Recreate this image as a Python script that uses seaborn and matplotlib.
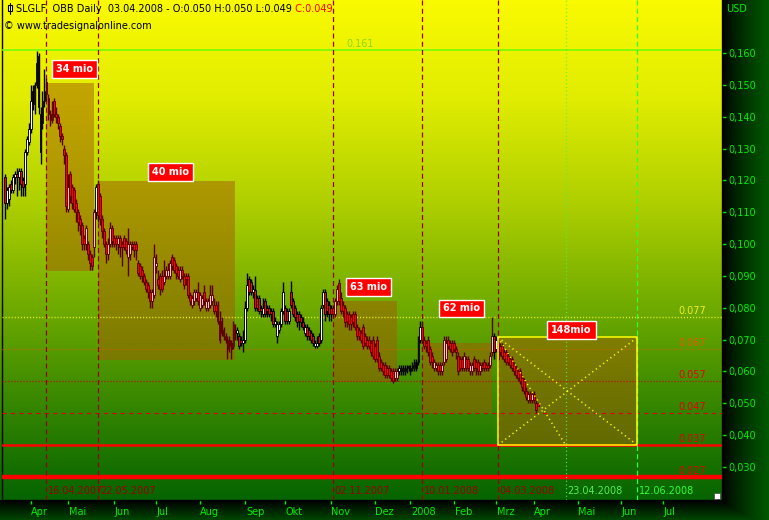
import numpy as np
import pandas as pd
import matplotlib
matplotlib.use("Agg")
import matplotlib.pyplot as plt
import matplotlib.transforms as mtransforms
from matplotlib.patches import Rectangle
from matplotlib.ticker import FuncFormatter
import seaborn as sns

sns.set_theme(style="white")
plt.rcParams["font.family"] = ["DejaVu Sans"]

# -------------------------------
# Data (SLGLF daily, 14.03.2007 - 03.04.2008)
# -------------------------------
holidays = ["2007-04-06", "2007-04-09", "2007-12-24", "2007-12-25", "2007-12-26",
            "2008-01-01", "2008-03-21", "2008-03-24"]

opens = [
    .121, .113, .114, .119, .117, .121, .122, .121, .123, .120,
    .119, .129, .132, .136, .148, .144, .150, .159, .141, .138,
    .145, .151, .146, .141, .139, .145, .141, .140, .137, .134,
    .130, .128, .111, .122, .118, .117, .113, .110, .108, .106,
    .102, .100, .100, .097, .096, .099, .110, .119, .115, .108,
    .104, .100, .097, .100, .105, .102, .102, .100, .102, .100,
    .102, .101, .096, .097, .100, .100, .100, .094, .093, .092,
    .090, .088, .087, .085, .082, .084, .093, .089, .090, .090,
    .088, .090, .090, .090, .096, .095, .093, .092, .089, .092,
    .090, .090, .090, .084, .081, .082, .083, .085, .080, .081,
    .085, .080, .080, .081, .082, .081, .081, .081, .076, .076,
    .073, .070, .070, .070, .069, .068, .073, .072, .071, .070,
    .069, .070, .080, .089, .088, .085, .0855, .083, .083, .080,
    .078, .082, .080, .080, .079, .079, .075, .071, .073, .075,
    .079, .080, .079, .076, .085, .082, .080, .078, .078, .077,
    .0756, .072, .074, .073, .072, .071, .068, .068, .071, .070,
    .081, .085, .082, .081, .080, .080, .078, .082, .0877, .083,
    .081, .080, .078, .078, .077, .078, .078, .074, .073, .072,
    .074, .071, .070, .070, .069, .070, .068, .070, .065, .063,
    .062, .062, .061, .061, .060, .060, .058, .058, .060, .060,
    .060, .060, .060, .061, .060, .061, .061, .063, .063, .070,
    .074, .070, .069, .070, .067, .065, .061, .061, .062, .062,
    .060, .063, .064, .070, .069, .069, .069, .067, .065, .064,
    .064, .061, .064, .064, .060, .060, .064, .063, .063, .060,
    .062, .063, .062, .062, .062, .066, .071, .067, .069, .068,
    .068, .066, .066, .065, .064, .064, .062, .061, .060, .060,
    .058, .057, .054, .051, .053, .051, .053, .050, .050,
]
highs = [
    .122, .118, .119, .120, .122, .123, .124, .124, .124, .121,
    .130, .134, .138, .150, .150, .151, .1605, .160, .143, .148,
    .155, .152, .147, .142, .145, .146, .143, .141, .138, .135,
    .131, .129, .122, .123, .119, .118, .114, .111, .109, .107,
    .103, .106, .101, .098, .097, .111, .119, .120, .116, .109,
    .105, .101, .102, .107, .106, .103, .103, .103, .103, .101,
    .103, .102, .105, .101, .101, .101, .101, .095, .094, .093,
    .091, .089, .088, .086, .086, .100, .097, .092, .091, .092,
    .095, .093, .094, .095, .097, .096, .094, .093, .093, .093,
    .091, .091, .091, .085, .084, .086, .086, .088, .085, .084,
    .087, .083, .083, .087, .087, .083, .082, .082, .079, .077,
    .074, .072, .071, .071, .070, .076, .075, .074, .072, .071,
    .073, .082, .091, .090, .089, .087, .090, .084, .084, .081,
    .083, .083, .081, .081, .080, .080, .077, .076, .076, .080,
    .088, .081, .080, .080, .0885, .083, .081, .079, .079, .078,
    .077, .075, .075, .074, .073, .072, .070, .071, .072, .081,
    .086, .086, .083, .082, .081, .081, .083, .087, .089, .085,
    .082, .081, .079, .079, .078, .079, .079, .075, .074, .073,
    .075, .072, .071, .071, .070, .071, .069, .071, .066, .064,
    .063, .063, .062, .062, .061, .061, .061, .061, .062, .062,
    .062, .062, .062, .062, .062, .063, .064, .064, .071, .076,
    .076, .071, .070, .071, .068, .066, .064, .063, .063, .063,
    .063, .071, .071, .071, .070, .070, .070, .068, .066, .065,
    .065, .066, .065, .065, .063, .063, .065, .064, .064, .063,
    .063, .064, .063, .063, .066, .077, .072, .071, .070, .069,
    .069, .067, .067, .066, .065, .065, .063, .062, .061, .061,
    .059, .058, .055, .054, .054, .054, .054, .051, .050,
]
lows = [
    .108, .111, .112, .116, .116, .119, .115, .117, .115, .115,
    .115, .128, .131, .135, .142, .141, .149, .141, .125, .136,
    .143, .145, .139, .137, .138, .140, .138, .136, .132, .131,
    .125, .110, .110, .113, .111, .110, .107, .104, .103, .098,
    .098, .098, .095, .092, .092, .096, .108, .107, .106, .102,
    .099, .094, .095, .099, .099, .099, .098, .097, .096, .093,
    .098, .097, .090, .095, .098, .096, .095, .090, .089, .088,
    .087, .085, .083, .080, .080, .083, .091, .086, .084, .085,
    .087, .089, .089, .089, .092, .091, .089, .089, .088, .089,
    .086, .087, .083, .081, .080, .081, .082, .081, .079, .080,
    .081, .079, .079, .080, .081, .078, .077, .075, .069, .071,
    .070, .069, .064, .066, .064, .067, .070, .070, .067, .068,
    .066, .069, .079, .084, .084, .083, .079, .079, .078, .077,
    .077, .077, .077, .077, .076, .074, .074, .069, .072, .074,
    .078, .075, .075, .075, .080, .077, .076, .074, .073, .074,
    .073, .071, .070, .070, .069, .068, .0675, .0675, .068, .069,
    .080, .076, .077, .076, .076, .077, .077, .081, .081, .078,
    .077, .074, .074, .073, .073, .074, .073, .070, .070, .069,
    .067, .068, .067, .067, .065, .064, .063, .063, .060, .060,
    .059, .058, .058, .058, .057, .0565, .057, .057, .059, .059,
    .059, .059, .0595, .060, .059, .060, .060, .060, .062, .069,
    .069, .067, .066, .065, .062, .061, .060, .060, .059, .059,
    .059, .062, .063, .067, .066, .065, .066, .064, .059, .060,
    .060, .060, .060, .060, .059, .059, .060, .059, .059, .059,
    .060, .060, .060, .060, .061, .065, .064, .066, .063, .065,
    .064, .063, .062, .062, .061, .060, .059, .058, .057, .056,
    .054, .053, .051, .050, .050, .050, .050, .047, .049,
]
closes = [
    .113, .117, .118, .117, .121, .122, .121, .123, .119, .118,
    .129, .133, .136, .145, .144, .150, .157, .143, .129, .145,
    .148, .147, .141, .139, .144, .141, .140, .138, .134, .133,
    .128, .112, .118, .115, .113, .111, .110, .107, .106, .100,
    .100, .105, .097, .094, .093, .110, .118, .109, .108, .104,
    .100, .097, .100, .105, .101, .100, .100, .102, .099, .099,
    .099, .098, .100, .100, .099, .098, .098, .091, .090, .090,
    .088, .086, .085, .082, .085, .096, .094, .087, .086, .086,
    .090, .092, .092, .094, .093, .092, .091, .090, .092, .090,
    .087, .089, .084, .082, .083, .085, .085, .082, .084, .083,
    .082, .082, .082, .084, .084, .079, .079, .076, .070, .072,
    .071, .071, .067, .068, .067, .075, .072, .073, .068, .069,
    .070, .080, .087, .085, .085, .086, .080, .080, .079, .079,
    .080, .078, .079, .078, .078, .075, .076, .075, .075, .079,
    .085, .076, .076, .079, .081, .078, .077, .0756, .076, .0756,
    .074, .074, .071, .071, .070, .069, .069, .069, .069, .080,
    .085, .078, .079, .078, .078, .078, .082, .086, .082, .079,
    .079, .0756, .076, .075, .075, .0756, .074, .071, .071, .070,
    .068, .069, .068, .068, .066, .065, .064, .064, .061, .061,
    .060, .059, .059, .059, .058, .057, .060, .060, .061, .061,
    .061, .061, .061, .0612, .061, .062, .063, .061, .070, .074,
    .070, .068, .068, .066, .063, .063, .063, .062, .060, .060,
    .062, .070, .069, .068, .067, .066, .067, .066, .060, .061,
    .061, .065, .061, .061, .062, .062, .061, .061, .060, .062,
    .061, .061, .061, .061, .065, .071, .066, .070, .064, .066,
    .065, .064, .063, .063, .062, .061, .060, .059, .058, .057,
    .055, .054, .052, .053, .051, .053, .051, .048, .049,
]

# volume boxes
box_starts = ["2007-04-16", "2007-05-22", "2007-11-02", "2008-01-10", "2008-03-04"]
box_ends = ["2007-05-18", "2007-08-27", "2007-12-18", "2008-02-28", "2008-06-12"]
box_lows = [0.0915, 0.0636, 0.0567, 0.0470, 0.0369]
box_highs = [0.1507, 0.1198, 0.0821, 0.0689, 0.0707]
box_labels = ["34 mio", "40 mio", "63 mio", "62 mio", "148mio"]
label_prices = [0.1550, 0.1226, 0.0865, 0.0798, 0.0730]
box_edges = ["none", "none", "none", "none", "#ffff00"]

# event dates (vertical lines)
event_dates = ["2007-04-16", "2007-05-22", "2007-11-02", "2008-01-10", "2008-03-04",
               "2008-04-23", "2008-06-12"]
event_labels = ["16.04.2007", "22.05.2007", "02.11.2007", "10.01.2008", "04.03.2008",
                "23.04.2008", "12.06.2008"]
event_colors = ["#9a0000"] * 5 + ["#55ee55", "#33ff33"]
event_styles = [(0, (4, 2.6))] * 5 + [(0, (0.8, 2.2)), (0, (4, 2.6))]

# horizontal levels
levels = [0.161, 0.077, 0.067, 0.057, 0.047, 0.037, 0.027]
level_labels = ["0.161", "0.077", "0.067", "0.057", "0.047", "0.037", "0.027"]
level_colors = ["#66ff00", "#eeee10", "#d86000", "#c80000", "#e00000", "#ff0000", "#ff0000"]
level_text_colors = ["#8ed800", "#eeee20", "#e85a00", "#e80000", "#e80000", "#e80000", "#e80000"]
level_styles = ["-", (0, (0.8, 1.4)), (0, (0.8, 1.6)), (0, (0.8, 1.6)), (0, (3.8, 3.8)), "-", "-"]
level_widths = [1.1, 1.0, 0.9, 0.9, 0.8, 1.8, 3.2]
level_text_x = [172, 338.5, 338.5, 338.5, 338.5, 338.5, 338.5]

month_labels = ["Apr", "Mai", "Jun", "Jul", "Aug", "Sep", "Okt", "Nov", "Dez",
                "2008", "Feb", "Mrz", "Apr", "Mai", "Jun", "Jul"]

# -------------------------------
# Calendar -> bar positions
# -------------------------------
trade_days = pd.bdate_range("2007-03-14", "2008-04-03")
trade_days = trade_days[~trade_days.isin(pd.to_datetime(holidays))]
calendar = trade_days.append(pd.bdate_range("2008-04-04", "2008-09-30"))
pos = pd.Series(np.arange(len(calendar)), index=calendar)


def at(d):
    return pos[pd.Timestamp(d)]


months = pd.period_range("2007-04", "2008-07", freq="M")
cal_periods = calendar.to_period("M")
month_pos = [pos[calendar[cal_periods == m][0]] for m in months]

# -------------------------------
# Figure + backgrounds
# -------------------------------
W, H = 769, 520
fig = plt.figure(figsize=(W / 100, H / 100), dpi=100)
fig.patch.set_facecolor("black")

bg = fig.add_axes([0, 0, 1, 1], zorder=0)
yy, xx = np.mgrid[0:H, 0:W]
rows = np.arange(H)
red_ch = np.interp(rows, [0, 100, 200, 300, 400, 500], [250, 224, 176, 115, 56, 5])
grn_ch = np.interp(rows, [0, 100, 200, 300, 400, 500], [250, 236, 208, 173, 136, 100])
panel = (xx < 722) & (yy < 500)
t_right = np.clip((xx - 722) / 47, 0, 1)
t_bot = np.clip((yy - 500) / 20, 0, 1)
outer = 90 * np.maximum(t_right ** 0.8, 0.8 * t_bot)
img = np.zeros((H, W, 3))
img[..., 0] = np.where(panel, red_ch[yy], 0)
img[..., 1] = np.where(panel, grn_ch[yy], outer)
bg.imshow(img / 255, extent=[0, W, H, 0], aspect="auto", interpolation="nearest")
bg.set_xlim(0, W)
bg.set_ylim(H, 0)
bg.axis("off")
# little candle icon + corner icon
bg.plot([9.5, 9.5], [2.5, 14], color="black", lw=0.8)
bg.add_patch(Rectangle((7.5, 5), 4, 6, facecolor="white", edgecolor="black", lw=0.8))
bg.add_patch(Rectangle((714, 493), 6, 6, facecolor="white", edgecolor="#555555", lw=0.6))

ax = fig.add_axes([2 / W, 20 / H, 720 / W, 500 / H], zorder=1)
ax.set_facecolor("none")

# -------------------------------
# Boxes
# -------------------------------
for s, e, lo, hi, ec in zip(box_starts, box_ends, box_lows, box_highs, box_edges):
    ax.add_patch(Rectangle((at(s), lo), at(e) - at(s), hi - lo,
                           facecolor=(0.64, 0.36, 0.0, 0.5), edgecolor="none", zorder=2))
    if ec != "none":
        ax.add_patch(Rectangle((at(s), lo), at(e) - at(s), hi - lo,
                               facecolor="none", edgecolor=ec, lw=1.1, zorder=6))
        x0, x1, xm = at(s), at(e), at("2008-04-23")
        ax.plot([x0, x1], [hi, lo], color=ec, ls=(0, (0.8, 2.2)), lw=1.1, zorder=6)
        ax.plot([x0, x1], [lo, hi], color=ec, ls=(0, (0.8, 2.2)), lw=1.1, zorder=6)
        ax.plot([x0, xm], [hi, lo], color=ec, ls=(0, (0.8, 2.2)), lw=1.1, zorder=6)

# -------------------------------
# Level lines
# -------------------------------
for lev, col, ls, lw in zip(levels, level_colors, level_styles, level_widths):
    ax.axhline(lev, color=col, ls=ls, lw=lw, zorder=3)
for lev, txt, col, tx in zip(levels, level_labels, level_text_colors, level_text_x):
    ax.text(tx, lev + 0.0003, txt, color=col, fontsize=7, ha="left", va="bottom", zorder=7)

# -------------------------------
# Event lines
# -------------------------------
for d, lbl, col, ls in zip(event_dates, event_labels, event_colors, event_styles):
    ax.axvline(at(d), color=col, lw=0.9, ls=ls, zorder=3)
    ax.text(at(d) + 0.9, 0.018, lbl, transform=ax.get_xaxis_transform(), color=col,
            fontsize=7, ha="left", va="center", zorder=7)

# -------------------------------
# Candles
# -------------------------------
o, h, l, c = map(np.array, (opens, highs, lows, closes))
x = np.arange(len(c))
in_box = np.zeros(len(x), dtype=bool)
for s, e in zip(box_starts, box_ends):
    in_box |= (x >= at(s)) & (x <= at(e))
up = c >= o
edge = np.where(in_box, "#5a0000", "#000000")
face = np.where(up, np.where(in_box, "#ffc4c4", "#ffffff"), "#ff0000")
ax.vlines(x, l, h, colors=edge, linewidth=1.0, zorder=4)
ax.bar(x, np.maximum(np.abs(c - o), 0.0006), bottom=np.minimum(o, c), width=0.95,
       color=face, edgecolor=edge, linewidth=0.65, zorder=5)

# box labels
for s, e, txt, p in zip(box_starts, box_ends, box_labels, label_prices):
    ax.text((at(s) + at(e)) / 2 + 2, p, txt, ha="center", va="center", color="white",
            fontsize=7, fontweight="bold", zorder=8,
            bbox=dict(boxstyle="square,pad=0.4", fc="#ff0000", ec="white", lw=1))

# -------------------------------
# Axes
# -------------------------------
ax.set_xlim(-1.36, 360.6)
ax.set_ylim(0.01964, 0.17664)

ax.yaxis.tick_right()
ax.set_yticks(np.arange(0.03, 0.1601, 0.01))
ax.yaxis.set_major_formatter(FuncFormatter(lambda v, _: f"{v:.3f}".replace(".", ",")))
ax.tick_params(axis="y", colors="#00ee00", labelsize=7, length=3, width=1, pad=1.5,
               direction="out", right=True, left=False)

ax.set_xticks(month_pos)
ax.set_xticklabels(month_labels, ha="left")
ax.tick_params(axis="x", colors="#00ee00", labelsize=7, length=3, width=1, pad=2,
               direction="out", bottom=True)
shift = mtransforms.ScaledTranslation(0.005, 0, fig.dpi_scale_trans)
for lab in ax.get_xticklabels():
    lab.set_transform(lab.get_transform() + shift)

ax.spines["top"].set_visible(False)
for side in ["left", "right", "bottom"]:
    ax.spines[side].set_color("black")
    ax.spines[side].set_linewidth(1)

# header texts
t1 = ax.text(16 / W, 1 - 9 / H, "SLGLF  OBB Daily  03.04.2008 - O:0.050 H:0.050 L:0.049",
             transform=fig.transFigure, fontsize=7, color="black", va="center", ha="left",
             zorder=9)
ax.annotate(" C:0.049", xy=(1, 0.5), xycoords=t1, fontsize=7, color="#ff0000",
            va="center", ha="left", zorder=9)
ax.text(4 / W, 1 - 26 / H, "\u00a9 www.tradesignalonline.com", transform=fig.transFigure,
        fontsize=7, color="black", va="center", ha="left", zorder=9)
fig.text(726 / W, 1 - 9 / H, "USD", fontsize=7, color="#00ee00", va="center", ha="left")

fig.savefig("out.png", dpi=100, facecolor=fig.get_facecolor())
